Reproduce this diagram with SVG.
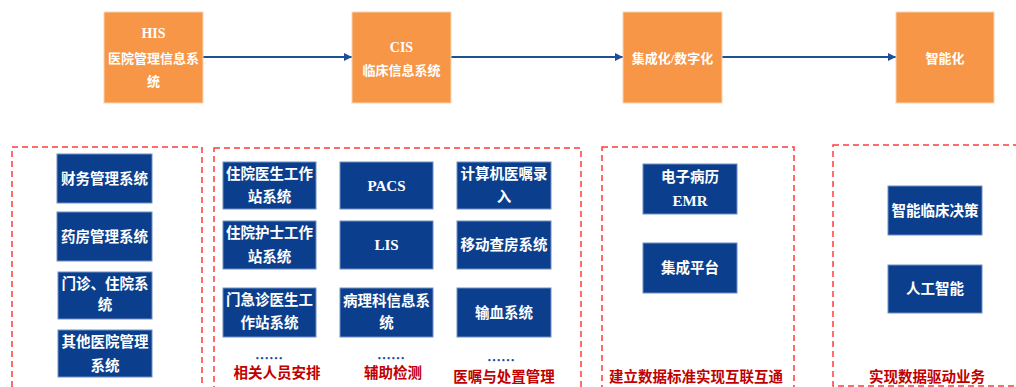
<svg xmlns="http://www.w3.org/2000/svg" width="1016" height="387" viewBox="0 0 1016 387">
<style>
text{font-family:"Liberation Serif","Noto Sans CJK SC",serif;font-weight:bold;text-anchor:middle;dominant-baseline:central}
.top rect{fill:#F79646;stroke:#FAD3B0;stroke-width:1}
.top text{fill:#fff;font-size:13px}
.blue rect{fill:#0B3F8E;stroke:#6F8FC2;stroke-width:1}
.blue text{fill:#fff;font-size:14.5px}
text.lat{font-size:15px}
.top text.lat{font-size:14px}
.grp{fill:none;stroke:#FF3B3B;stroke-width:1.5;stroke-dasharray:6 4}
.lbl{fill:#C00000;font-size:14.5px}
.dots{fill:#1F4E9B;font-family:"Noto Sans CJK SC",sans-serif;font-size:14px;font-weight:bold}
.conn line{stroke:#1F4E9B;stroke-width:2}
</style>
<defs>
<marker id="arr" viewBox="0 0 10 10" refX="10" refY="5" markerWidth="4" markerHeight="4" markerUnits="strokeWidth" orient="auto">
<path d="M0,0 L10,5 L0,10 Z" fill="#1F4E9B"/>
</marker>
</defs>
<rect width="1016" height="387" fill="#fff"/>

<g id="connectors" class="conn">
<line x1="203" y1="57" x2="352" y2="57" marker-end="url(#arr)"/>
<line x1="451" y1="57" x2="623" y2="57" marker-end="url(#arr)"/>
<line x1="722" y1="57" x2="896" y2="57" marker-end="url(#arr)"/>
</g>

<g id="his" class="top"><rect x="104" y="12" width="99" height="91"/>
<text class="lat" x="153.5" y="33">HIS</text><text x="153.5" y="58">医院管理信息系</text><text x="153.5" y="81">统</text></g>
<g id="cis" class="top"><rect x="352" y="12" width="99" height="91"/>
<text class="lat" x="401.5" y="47">CIS</text><text x="401.5" y="70">临床信息系统</text></g>
<g id="integration" class="top"><rect x="623" y="12" width="99" height="91"/>
<text x="672.5" y="58">集成化/数字化</text></g>
<g id="smart" class="top"><rect x="896" y="12" width="98" height="91"/>
<text x="945" y="58">智能化</text></g>

<g id="group-his">
<rect class="grp" x="12" y="147" width="190" height="245"/>
<g id="n-finance" class="blue"><rect x="57" y="154" width="95" height="49"/><text x="104.5" y="178.5">财务管理系统</text></g>
<g id="n-pharmacy" class="blue"><rect x="57" y="212" width="95" height="49"/><text x="104.5" y="236.5">药房管理系统</text></g>
<g id="n-outpatient" class="blue"><rect x="58" y="272" width="94" height="47"/><text x="105" y="284">门诊、住院系</text><text x="105" y="305">统</text></g>
<g id="n-other" class="blue"><rect x="58" y="330" width="94" height="47"/><text x="105" y="342">其他医院管理</text><text x="105" y="366">系统</text></g>
</g>

<g id="group-cis">
<rect class="grp" x="214" y="148" width="367" height="245"/>
<g id="n-doctor" class="blue"><rect x="223" y="162" width="93" height="47"/><text x="269.5" y="174">住院医生工作</text><text x="269.5" y="197">站系统</text></g>
<g id="n-nurse" class="blue"><rect x="223" y="221" width="93" height="48"/><text x="269.5" y="233">住院护士工作</text><text x="269.5" y="257">站系统</text></g>
<g id="n-emergency" class="blue"><rect x="223" y="288" width="93" height="49"/><text x="269.5" y="300">门急诊医生工</text><text x="269.5" y="323">作站系统</text></g>
<g id="n-pacs" class="blue"><rect x="340" y="162" width="93" height="47"/><text class="lat" x="386.5" y="186">PACS</text></g>
<g id="n-lis" class="blue"><rect x="340" y="221" width="93" height="48"/><text class="lat" x="386.5" y="245">LIS</text></g>
<g id="n-pathology" class="blue"><rect x="340" y="288" width="93" height="49"/><text x="386.5" y="301">病理科信息系</text><text x="386.5" y="323">统</text></g>
<g id="n-order" class="blue"><rect x="457" y="162" width="94" height="47"/><text x="504" y="174">计算机医嘱录</text><text x="504" y="197">入</text></g>
<g id="n-rounds" class="blue"><rect x="457" y="221" width="94" height="48"/><text x="504" y="245">移动查房系统</text></g>
<g id="n-blood" class="blue"><rect x="457" y="288" width="94" height="49"/><text x="504" y="313">输血系统</text></g>
<text class="dots" x="269" y="357">……</text>
<text class="dots" x="391" y="357">……</text>
<text class="dots" x="501" y="359">……</text>
<text class="lbl" x="277" y="373">相关人员安排</text>
<text class="lbl" x="393" y="373">辅助检测</text>
<text class="lbl" x="504" y="377">医嘱与处置管理</text>
</g>

<g id="group-integration">
<rect class="grp" x="602" y="147" width="192" height="245"/>
<g id="n-emr" class="blue"><rect x="643" y="164" width="94" height="50"/><text x="690" y="177">电子病历</text><text class="lat" x="690" y="201">EMR</text></g>
<g id="n-platform" class="blue"><rect x="643" y="243" width="94" height="50"/><text x="690" y="268">集成平台</text></g>
<text class="lbl" x="696" y="377">建立数据标准实现互联互通</text>
</g>

<g id="group-smart">
<rect class="grp" x="833" y="145" width="190" height="241"/>
<g id="n-decision" class="blue"><rect x="888" y="186" width="94" height="49"/><text x="935" y="211">智能临床决策</text></g>
<g id="n-ai" class="blue"><rect x="888" y="265" width="94" height="48"/><text x="935" y="289">人工智能</text></g>
<text class="lbl" x="927" y="377">实现数据驱动业务</text>
</g>
</svg>
